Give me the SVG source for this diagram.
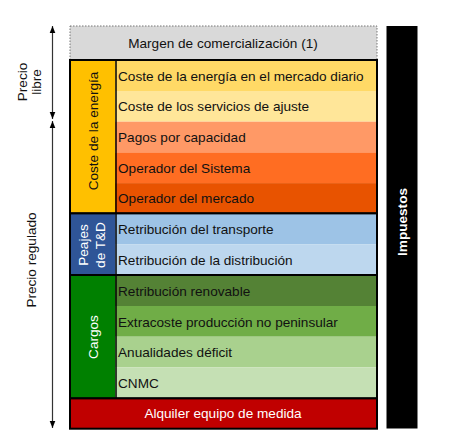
<svg xmlns="http://www.w3.org/2000/svg" width="450" height="446" viewBox="0 0 450 446">
<defs>
<marker id="ah" viewBox="0 0 10 10" refX="10" refY="5" markerWidth="7" markerHeight="7" orient="auto-start-reverse" markerUnits="userSpaceOnUse">
<path d="M0,1 L10,5 L0,9 z" fill="#000"/>
</marker>
<style>
text{font-family:"Liberation Sans",Arial,sans-serif;font-size:13.6px;fill:#111}
.w{fill:#fff}
.b{font-weight:bold}
.grp{fill:none;stroke:#000;stroke-width:2}
.arr{stroke:#333;stroke-width:1.2;fill:none;marker-start:url(#ah);marker-end:url(#ah)}
</style>
</defs>
<rect width="450" height="446" fill="#fff"/>
<g id="margen">
<rect x="70" y="26" width="307" height="34" fill="#D9D9D9" stroke="#777" stroke-width="1" stroke-dasharray="1.5,1.5"/>
<text x="223" y="48" text-anchor="middle">Margen de comercialización (1)</text>
</g>
<g id="coste-energia">
<rect x="115" y="60" width="262" height="31" fill="#FFD966"/>
<rect x="115" y="91" width="262" height="30.7" fill="#FFE699"/>
<rect x="115" y="121.7" width="262" height="30.7" fill="#FF9966"/>
<rect x="115" y="152.4" width="262" height="30.7" fill="#FF6D22"/>
<rect x="115" y="183.1" width="262" height="30.3" fill="#E85300"/>
<rect x="70" y="60" width="45" height="153.4" fill="#FFC000"/>
<line x1="116" y1="60" x2="116" y2="213.4" stroke="#000" stroke-width="1.5"/>
<rect x="70" y="60" width="307" height="153.4" class="grp"/>
<text transform="translate(98,131) rotate(-90)" text-anchor="middle">Coste de la energía</text>
<text x="118" y="80.5">Coste de la energía en el mercado diario</text>
<text x="118" y="111">Coste de los servicios de ajuste</text>
<text x="118" y="142">Pagos por capacidad</text>
<text x="118" y="173">Operador del Sistema</text>
<text x="118" y="203">Operador del mercado</text>
</g>
<g id="peajes">
<rect x="115" y="213.4" width="262" height="30.8" fill="#9DC3E6"/>
<rect x="115" y="244.2" width="262" height="30.8" fill="#BDD7EE"/>
<rect x="70" y="213.4" width="45" height="61.6" fill="#2F5597"/>
<line x1="116" y1="213.4" x2="116" y2="275" stroke="#000" stroke-width="1.5"/>
<rect x="70" y="213.4" width="307" height="61.6" class="grp"/>
<text transform="translate(88,245) rotate(-90)" text-anchor="middle" class="w">Peajes</text>
<text transform="translate(105,245) rotate(-90)" text-anchor="middle" class="w">de T&amp;D</text>
<text x="118" y="234">Retribución del transporte</text>
<text x="118" y="265">Retribución de la distribución</text>
</g>
<g id="cargos">
<rect x="115" y="275" width="262" height="31" fill="#548235"/>
<rect x="115" y="306" width="262" height="30.7" fill="#70AD47"/>
<rect x="115" y="336.7" width="262" height="30.7" fill="#A9D18E"/>
<rect x="115" y="367.4" width="262" height="31" fill="#C5E0B4"/>
<rect x="70" y="275" width="45" height="123.4" fill="#008000"/>
<line x1="116" y1="275" x2="116" y2="398.4" stroke="#000" stroke-width="1.5"/>
<rect x="70" y="275" width="307" height="123.4" class="grp"/>
<text transform="translate(98,337) rotate(-90)" text-anchor="middle" class="w">Cargos</text>
<text x="118" y="296">Retribución renovable</text>
<text x="118" y="327">Extracoste producción no peninsular</text>
<text x="118" y="357">Anualidades déficit</text>
<text x="118" y="388">CNMC</text>
</g>
<g id="alquiler">
<rect x="70" y="398.4" width="307" height="30.3" fill="#C00000" stroke="#000" stroke-width="2"/>
<text x="223" y="418" text-anchor="middle" class="w">Alquiler equipo de medida</text>
</g>
<g id="impuestos">
<rect x="386.5" y="26" width="31" height="402.5" fill="#000"/>
<text transform="translate(407,222) rotate(-90)" text-anchor="middle" class="w b">Impuestos</text>
</g>
<g id="connectors">
<line x1="52.5" y1="26" x2="52.5" y2="119" class="arr"/>
<line x1="52.5" y1="121" x2="52.5" y2="428" class="arr"/>
</g>
<g id="labels">
<text transform="translate(27,82) rotate(-90)" text-anchor="middle">Precio</text>
<text transform="translate(41,82) rotate(-90)" text-anchor="middle">libre</text>
<text transform="translate(36,260) rotate(-90)" text-anchor="middle">Precio regulado</text>
</g>
</svg>
